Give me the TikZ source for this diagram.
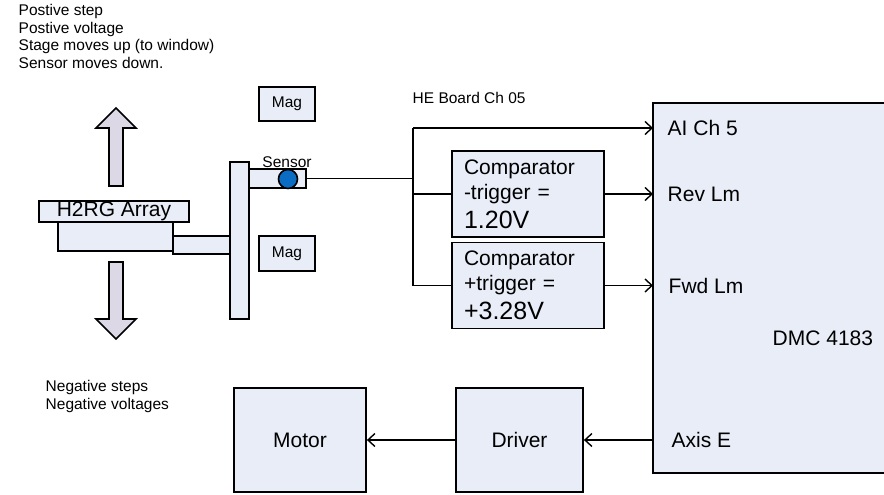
\documentclass[tikz,border=0pt]{standalone}
\usepackage{fontspec}
\setmainfont{Liberation Sans}
\usetikzlibrary{arrows.meta}
\tikzset{>={Straight Barb[length=7pt,width=13pt]}}
\definecolor{boxfill}{HTML}{E8EDF7}
\definecolor{arrowfill}{HTML}{DCD8E6}
\definecolor{sensorblue}{HTML}{0A6CC3}

\begin{document}
\begin{tikzpicture}[x=1pt, y=-1pt, line width=1.4pt,
    blk/.style={draw, fill=boxfill, line width=1.8pt, inner sep=0pt},
    big/.style={font=\fontsize{21}{25.2}\selectfont},
    small/.style={font=\fontsize{15.5}{17.5}\selectfont},
    lbl/.style={big, inner sep=0pt},
    note/.style={small, inner sep=0pt, align=left},
    cmp/.style={blk, big, text width=128pt, inner xsep=12pt, align=left, minimum height=86pt},
    bigarrow/.style={draw, fill=arrowfill, line width=1.6pt}]
\useasboundingbox (0,0) rectangle (884,495);

\node[note, anchor=north west] (uptext) at (18,4) {Postive step\\Postive voltage\\Stage moves up (to window)\\Sensor moves down.};
\node[note, anchor=north west] (downtext) at (45,380) {Negative steps\\Negative voltages};
\node[note, anchor=base west] (he) at (412,103) {HE Board Ch 05};

% stage and sensor
\draw[bigarrow] (109,186) -- (109,128) -- (96,128) -- (116,108) -- (136,128) -- (123,128) -- (123,186) -- cycle;
\draw[bigarrow] (109,262) -- (109,319) -- (96,319) -- (116,339) -- (136,319) -- (123,319) -- (123,262) -- cycle;
\node[blk, minimum width=115, minimum height=29] (mount) at (115.5,236.5) {};
\node[blk, big, minimum width=150, minimum height=21] (h2rg) at (114,211.5) {H2RG Array};
\node[blk, minimum width=57, minimum height=18] (link) at (201.5,245) {};
\node[blk, minimum width=19, minimum height=157] (bar) at (239.5,240.5) {};
\node[blk, minimum width=57, minimum height=19] (arm) at (277.5,178.5) {};
\node[draw, circle, fill=sensorblue, minimum size=19, inner sep=0pt, line width=1.6pt] (sensor) at (288,179) {};
\node[note, anchor=base] (senslbl) at (287,167) {Sensor};
\node[blk, small, minimum width=56, minimum height=34] (magA) at (287,104) {Mag};
\node[blk, small, minimum width=56, minimum height=35] (magB) at (287,253.5) {Mag};

% controller
\coordinate (dmc) at (653,103);
\fill[boxfill] (dmc) rectangle (884,473);
\draw[line width=1.8pt] (884,103) -- (dmc) -- (653,473) -- (884,473);
\node[lbl, anchor=west] (ai) at (667,128) {AI Ch 5};
\node[lbl, anchor=west] (rev) at (667,194) {Rev Lm};
\node[lbl, anchor=west] (fwd) at (668,286) {Fwd Lm};
\node[lbl, anchor=west] (axis) at (671,440) {Axis E};
\node[lbl, anchor=west] (dmcname) at (772,338.5) {DMC 4183};

\node[cmp] (cmpA) at (528,194) {Comparator\\-trigger =\\[4pt]{\fontsize{25}{30}\selectfont 1.20V}};
\node[cmp] (cmpB) at (528,285.5) {Comparator\\+trigger =\\[4pt]{\fontsize{25}{30}\selectfont +3.28V}};

\coordinate (bus) at (413,128);
\draw (arm.east) -- (arm.east -| bus);
\draw (bus) -- (cmpB.west -| bus) -- (cmpB.west);
\draw (cmpA.west -| bus) -- (cmpA.west);
\draw[->] (bus) -- (bus -| dmc);
\draw[->] (cmpA.east) -- (cmpA.east -| dmc);
\draw[->] (cmpB.east) -- (cmpB.east -| dmc);

\node[blk, big, minimum width=132, minimum height=104] (motor) at (300,440) {Motor};
\node[blk, big, minimum width=127, minimum height=104] (driver) at (519.5,440) {Driver};
\draw[->] (axis.west -| dmc) -- (driver.east);
\draw[->] (driver.west) -- (motor.east);
\end{tikzpicture}
\end{document}
